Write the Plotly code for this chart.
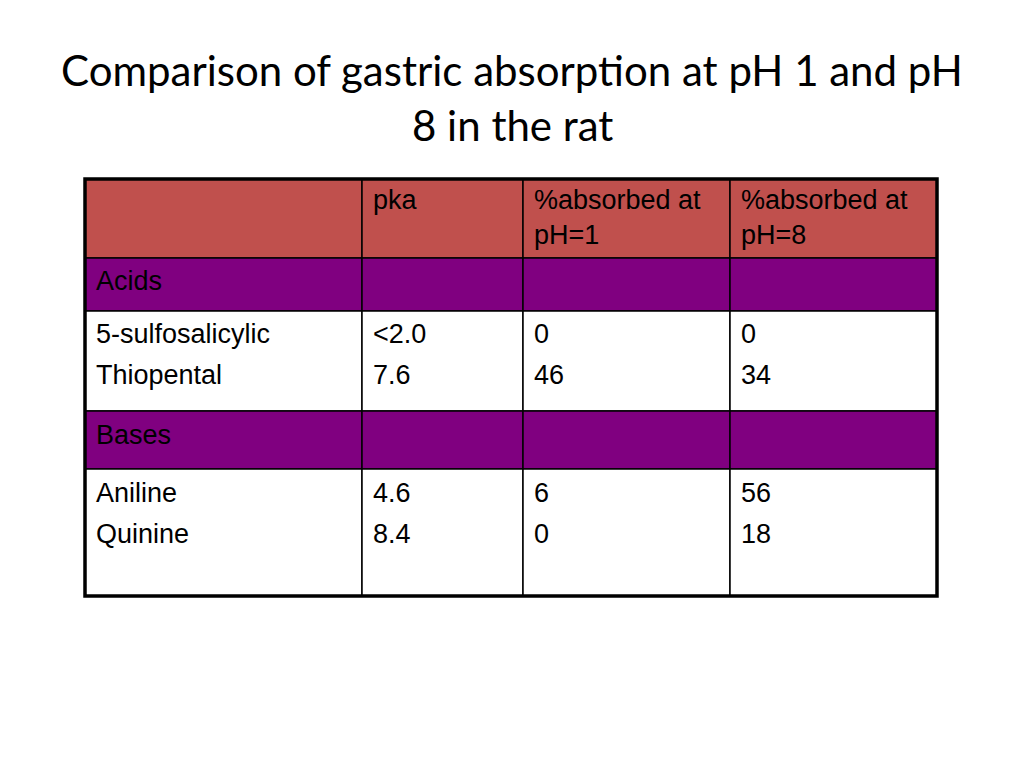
import plotly.graph_objects as go

title_lines = ["Comparison of gastric absorption at pH 1 and pH", "8 in the rat"]
headers = ["", "pka", "%absorbed at<br>pH=1", "%absorbed at<br>pH=8"]
groups = ["Acids", "Bases"]
acid_names = ["5-sulfosalicylic", "Thiopental"]
acid_pka = ["<2.0", "7.6"]
acid_ph1 = ["0", "46"]
acid_ph8 = ["0", "34"]
base_names = ["Aniline", "Quinine"]
base_pka = ["4.6", "8.4"]
base_ph1 = ["6", "0"]
base_ph8 = ["56", "18"]

RED = "#C0504D"
PURPLE = "#800080"
OFF = 8  # page body margin
col_edges = [85 - OFF, 362 - OFF, 523 - OFF, 730 - OFF, 937 - OFF]
row_edges = [179 - OFF, 258 - OFF, 311 - OFF, 411 - OFF, 469 - OFF, 596 - OFF]
row_fill = [RED, PURPLE, "white", PURPLE, "white"]
FONT = dict(family="Liberation Sans, Arial", size=27, color="black")

fig = go.Figure()
shapes = []
for r in range(5):
    for c in range(4):
        shapes.append(dict(type="rect", xref="x", yref="y",
                           x0=col_edges[c], x1=col_edges[c+1], y0=row_edges[r], y1=row_edges[r+1],
                           fillcolor=row_fill[r], line=dict(color="black", width=1.5), layer="below"))
shapes.append(dict(type="rect", xref="x", yref="y", x0=col_edges[0], x1=col_edges[-1],
                   y0=row_edges[0], y1=row_edges[-1], line=dict(color="black", width=3.5)))

ann = []
def txt(x, y, s):
    ann.append(dict(x=x, y=y, xref="x", yref="y", text=s, showarrow=False,
                    xanchor="left", yanchor="middle", align="left", font=FONT))

for c in range(1, 4):
    ann.append(dict(x=col_edges[c] + 9, y=row_edges[0] + 4, xref="x", yref="y", text=headers[c],
                    showarrow=False, xanchor="left", yanchor="top", align="left", font=FONT))
txt(col_edges[0] + 9, 281 - OFF, groups[0])
txt(col_edges[0] + 9, 435 - OFF, groups[1])
for i, yy in enumerate([334, 375]):
    for c, arr in enumerate([acid_names, acid_pka, acid_ph1, acid_ph8]):
        txt(col_edges[c] + 9, yy - OFF, arr[i])
for i, yy in enumerate([493, 534]):
    for c, arr in enumerate([base_names, base_pka, base_ph1, base_ph8]):
        txt(col_edges[c] + 9, yy - OFF, arr[i])

for s, yy in zip(title_lines, [70, 125]):
    ann.append(dict(x=512 - OFF, y=yy - OFF, xref="x", yref="y", text=s, showarrow=False,
                    xanchor="center", yanchor="middle",
                    font=dict(family="Lato, Open Sans", size=42, color="black")))

fig.update_layout(width=1024, height=768, margin=dict(l=0, r=0, t=0, b=0),
                  paper_bgcolor="white", plot_bgcolor="white",
                  xaxis=dict(range=[0, 1024], visible=False, fixedrange=True),
                  yaxis=dict(range=[768, 0], visible=False, fixedrange=True),
                  shapes=shapes, annotations=ann, showlegend=False)
fig.write_html("out.html", config={"displayModeBar": False})
